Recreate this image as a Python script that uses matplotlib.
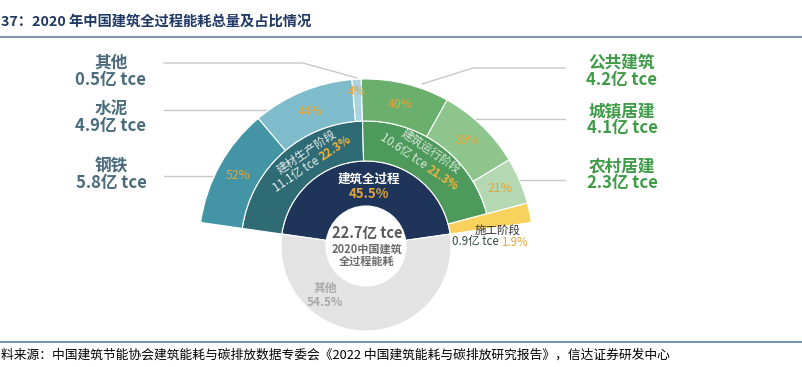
import numpy as np
import matplotlib.pyplot as plt
from matplotlib.patches import Wedge

plt.rcParams['font.family'] = ['Noto Sans CJK SC', 'DejaVu Sans']

# data
total_value = 22.7
whole_names = ['建筑全过程', '其他']
whole_share = [45.5, 54.5]
stage_names = ['建材生产阶段', '建筑运行阶段', '施工阶段']
stage_value = [11.1, 10.6, 0.9]
stage_share = [22.3, 21.3, 1.9]
material_names = ['钢铁', '水泥', '其他']
material_value = [5.8, 4.9, 0.5]
material_share = [52, 44, 4]
operation_names = ['公共建筑', '城镇居建', '农村居建']
operation_value = [4.2, 4.1, 2.3]
operation_share = [40, 39, 21]

# colours
navy = '#1f3459'
grey = '#e4e3e3'
stage_colors = ['#2e6b74', '#4e9a5c', '#f9d25e']
material_colors = ['#4395a6', '#7fbccb', '#a9d3de']
operation_colors = ['#6aaf6c', '#8dc58d', '#b4d9b2']
gold = '#e3a53a'
slate = '#4a6b7c'
green_txt = '#3f9b48'

W, H = 803, 367
cx, cy = 366, 246
r_hole, r_in, r_mid, r_out = 40, 85, 125, 167

fig = plt.figure(figsize=(W / 100, H / 100), dpi=100)
ax = fig.add_axes([0, 0, 1, 1])
ax.set_xlim(0, W)
ax.set_ylim(H, 0)
ax.set_aspect('equal')
ax.axis('off')


def wedge(a1, a2, r, width, color, z=2):
    # a1 < a2 are screen angles (ccw, degrees); y axis is flipped
    ax.add_patch(Wedge((cx, cy), r, -a2, -a1, width=width, fc=color,
                       ec='white', lw=0.8, zorder=z))


def polar(a, r):
    t = np.deg2rad(a)
    return cx + r * np.cos(t), cy - r * np.sin(t)


# inner donut
start = 90 + whole_share[0] * 3.6 / 2
end = start - whole_share[0] * 3.6
wedge(end, start, r_in, r_in - r_hole, navy)
wedge(start, end + 360, r_in, r_in - r_hole, grey)

# stage ring
spans = []
a = start
for share, col in zip(stage_share, stage_colors):
    b = a - share * 3.6
    w = (r_out - r_in) if col == stage_colors[2] else (r_mid - r_in)
    wedge(b, a, r_in + w, w, col)
    spans.append((b, a))
    a = b

# outer ring split of the two big stages
pct_pos = []
for (lo, hi), shares, cols in [(spans[0], material_share, material_colors),
                               (spans[1], operation_share, operation_colors)]:
    a = hi
    for s, col in zip(shares, cols):
        b = a - s * (hi - lo) / 100
        wedge(b, a, r_out, r_out - r_mid, col)
        pct_pos.append(((a + b) / 2, s))
        a = b

for mid, s in pct_pos:
    r = 155 if s == 4 else 146
    x, y = polar(mid, r)
    ax.text(x, y, f'{s}%', color=gold, fontsize=8.8, ha='center', va='center', zorder=5)

# centre text
ax.text(cx + 1, 233, f'{total_value}亿 tce', color='#5a5a5a', fontsize=10.5,
        fontweight='bold', ha='center', va='center', zorder=5)
ax.text(cx + 1, 249, '2020中国建筑', color='#6a6a6a', fontsize=8,
        fontweight='bold', ha='center', va='center', zorder=5)
ax.text(cx + 1, 261, '全过程能耗', color='#6a6a6a', fontsize=8,
        fontweight='bold', ha='center', va='center', zorder=5)
ax.text(cx + 3, 179, whole_names[0], color='white', fontsize=9,
        fontweight='bold', ha='center', va='center', zorder=5)
ax.text(cx + 3, 194, f'{whole_share[0]}%', color=gold, fontsize=9.5,
        fontweight='bold', ha='center', va='center', zorder=5)
ax.text(325, 288, whole_names[1], color='#a8a8a8', fontsize=8.5,
        fontweight='bold', ha='center', va='center', zorder=5)
ax.text(325, 303, f'{whole_share[1]}%', color='#a8a8a8', fontsize=8.5,
        fontweight='bold', ha='center', va='center', zorder=5)

# stage labels (rotated along the ring)
light = '#e8f0f0'
kw = dict(fontsize=8.3, ha='center', va='center', rotation_mode='anchor', zorder=5)
ax.text(306, 152, stage_names[0], color=light, rotation=34, **kw)
ax.text(321, 158, f'{stage_value[0]}亿 tce ', color=light, rotation=34,
        fontsize=8.3, ha='right', va='center', rotation_mode='anchor', zorder=5)
ax.text(321, 158, f'{stage_share[0]}%', color='#f2b33d', rotation=34,
        fontsize=8.3, fontweight='bold', ha='left', va='center',
        rotation_mode='anchor', zorder=5)
ax.text(431, 151, stage_names[1], color='#dcebdc', rotation=-34, **kw)
ax.text(428, 168, f'{stage_value[1]}亿 tce ', color='#dcebdc', rotation=-34,
        fontsize=8.3, ha='right', va='center', rotation_mode='anchor', zorder=5)
ax.text(428, 168, f'{stage_share[1]}%', color='#f2b33d', rotation=-34,
        fontsize=8.3, fontweight='bold', ha='left', va='center',
        rotation_mode='anchor', zorder=5)
ax.text(498, 230, stage_names[2], color='#333333', fontsize=8.3,
        ha='center', va='center', zorder=5)
ax.text(501, 242, f'{stage_value[2]}亿 tce ', color='#2f4a3c', fontsize=8.3,
        ha='right', va='center', zorder=5)
ax.text(501, 242, f'{stage_share[2]}%', color=gold, fontsize=8.3,
        ha='left', va='center', zorder=5)

# side labels
left_y = [166, 109, 63]
for name, val, y in zip(material_names, material_value, left_y):
    ax.text(111, y, name, color=slate, fontsize=12, fontweight='bold',
            ha='center', va='center')
    ax.text(111, y + 17, f'{val}亿 tce', color=slate, fontsize=12,
            fontweight='bold', ha='center', va='center')
right_y = [63, 111, 166]
for name, val, y in zip(operation_names, operation_value, right_y):
    ax.text(622, y, name, color=green_txt, fontsize=12, fontweight='bold',
            ha='center', va='center')
    ax.text(622, y + 17, f'{val}亿 tce', color=green_txt, fontsize=12,
            fontweight='bold', ha='center', va='center')

# leader lines
lc = '#c8c8c8'
ax.plot([164, 303, 357], [63, 63, 78], color=lc, lw=1, zorder=1)
for y in [110, 176]:
    x = cx - np.sqrt(r_out ** 2 - (cy - y) ** 2)
    ax.plot([164, x], [y, y], color=lc, lw=1, zorder=1)
ax.plot([422, 473, 565], [84, 68, 68], color=lc, lw=1, zorder=1)
for y in [119, 180]:
    x = cx + np.sqrt(r_out ** 2 - (cy - y) ** 2)
    ax.plot([x, 565], [y, y], color=lc, lw=1, zorder=1)

# title and source
ax.text(1, 22, '37：2020 年中国建筑全过程能耗总量及占比情况', color='#1f3864',
        fontsize=10.3, fontweight='bold', ha='left', va='center')
ax.plot([0, W], [37, 37], color='#8497b0', lw=1.5)
ax.plot([0, W], [342, 342], color='#5b7fa8', lw=1.2)
ax.text(1, 355, '料来源：中国建筑节能协会建筑能耗与碳排放数据专委会《2022 中国建筑能耗与碳排放研究报告》，信达证券研发中心',
        color='black', fontsize=9.2, style='italic', ha='left', va='center')

fig.savefig('out.png', dpi=100)
